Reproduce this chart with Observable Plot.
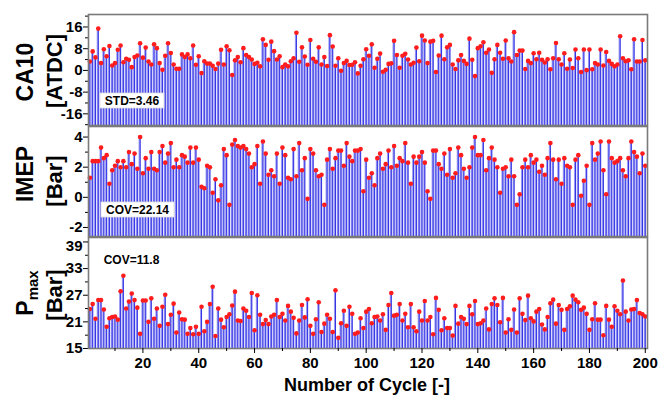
<!DOCTYPE html>
<html><head><meta charset="utf-8">
<script src="https://cdn.jsdelivr.net/npm/d3@7"></script>
<script src="https://cdn.jsdelivr.net/npm/@observablehq/plot@0.6"></script>
<style>
body{margin:0;background:#fff;font-family:"Liberation Sans",Arial,sans-serif;}
#chart{position:relative;width:662px;height:403px;overflow:hidden;}
#chart > div, #chart > svg{position:absolute;left:0;}
</style></head><body><div id="chart"></div>
<script>
const ca10 = [
3.3,7,4.8,15.4,2.7,7.8,5.2,9,1.8,2.7,
7.6,9.2,3,4.3,3.9,1.2,4.9,5.5,10,4.7,
8.4,3.3,2.2,9.6,8.2,2.7,0.2,5.4,10,6.4,
2.2,0.6,0.6,5.9,4.9,5.9,4.5,9.2,2.1,5.2,
-1,3.4,2.5,2.5,1.7,0.5,2.5,7.6,2.2,8.9,
7.4,-1.7,3.7,4.9,3,
8.2,5.7,4.9,4,2.4,2.8,1.5,11.5,9.4,3.9,
10.6,7.1,4,5.2,1.2,2.2,1.5,3.4,4.5,13.9,
3.2,8.5,5.1,2.1,11.2,4.3,3.2,8.5,2.2,4.9,
1.6,13,8.8,1.7,4.5,-0.1,2.7,3.5,2,2.1,
3,-1.1,1.7,4.1,7.8,5.4,9.6,1,4.3,6.2,
-0.5,0.2,2.4,2.6,10.9,5.7,1,5.4,6.1,4,
2.2,2.8,8.4,3.4,12.8,11,2.7,10.6,10.9,-0.6,
5.5,12.8,4.1,8.5,9.4,2.2,0.5,3.7,5.7,3.5,
2.4,
11.7,3.9,-2.1,8.2,8.9,10.4,6.5,7.7,-0.9,4.1,
9.4,6.5,4.3,11,4.5,3.3,14.1,5.7,7.3,7.3,
0.5,3.5,2.7,6.3,4.1,6.5,3.9,2.9,4.1,0.4,
4.5,10.1,4.1,2.2,6.3,0.6,4,0.9,7.7,4.5,
-0.6,7.7,0.1,7.7,0.4,2.7,2.2,7.7,1.8,6.8,
3.5,2.4,1.5,2.2,12.6,4.5,3.4,3.7,0.4,11.5,
3.3,3.3,11.2,3.7
];
const imep = [
1.3,2.4,2.4,2.4,3.3,2.6,2.8,0.9,1.8,2.1,
2.4,2.0,2.4,2.0,3.0,2.2,2.9,1.9,4.0,1.6,
2.6,1.9,3.0,1.9,1.8,3.0,3.4,2.3,2.9,3.6,
2.0,2.5,2.0,2.8,2.7,2.3,3.3,2.3,3.3,2.5,
0.7,0.6,2.1,2.0,0.3,1.2,-0.2,0.8,3.2,2.8,
-0.5,3.5,3.8,3.4,3.3,3.4,3.2,2.9,2.0,2.2,
3.4,0.9,3.7,2.9,1.5,
1.8,1.4,2.9,0.9,3.3,2.8,1.3,1.2,3.2,1.4,
3.6,1.8,2.6,-0.1,3.2,2.9,1.8,1.4,1.5,-0.5,
2.5,3.2,1.9,2.6,3.1,3.1,2.1,3.6,2.7,2.4,
3.1,3.1,3.2,0.4,2.5,1.3,1.6,0.8,2.6,2.9,
1.9,2.2,3.1,2.0,3.4,2.1,2.6,2.4,3.6,2.3,
0.9,2.7,2.3,2.7,3.0,2.3,0.4,-0.1,3.1,3.1,
2.2,1.9,2.9,1.5,3.2,1.3,1.6,3.3,2.8,1.9,
1.3,
2.0,3.3,4.0,2.8,2.8,3.8,1.8,2.6,3.3,2.5,
2.0,0.3,1.9,2.0,1.4,2.5,1.4,-0.5,0.2,2.0,
2.5,2.0,2.8,2.3,2.5,1.7,2.1,1.5,2.6,3.6,
2.5,1.2,2.5,0.9,2.6,2.1,2.0,-0.5,2.5,2.8,
0.1,1.1,2.1,-0.5,3.6,2.5,2.9,3.7,1.8,0.2,
3.7,2.6,2.3,2.4,2.6,1.8,1.4,2.6,3.7,3.0,
2.7,1.6,2.9,2.1
];
const pmax = [
23.9,25.0,21.7,25.9,25.9,23.8,19.9,21.8,22.1,22.2,
21.5,27.9,31.4,24.0,25.6,27.4,25.9,24.2,18.3,25.8,
25.8,21.0,26.3,21.7,24.0,20.1,24.4,27.1,20.5,22.6,
25.1,18.6,23.1,21.6,21.5,18.3,19.6,18.2,19.9,18.3,
24.4,18.9,21.0,25.0,28.9,17.8,24.0,21.5,19.8,22.1,
22.7,24.7,27.8,21.3,21.2,24.0,23.5,22.1,27.5,19.1,
27.0,22.6,20.5,21.4,20.5,
22.2,22.6,25.9,22.1,22.8,21.3,24.6,23.3,21.9,18.4,
21.3,24.8,22.0,26.1,20.1,18.3,21.6,25.4,18.7,20.6,
22.6,21.7,18.7,28.1,17.4,20.7,23.5,20.1,24.4,22.8,
18.3,18.6,21.8,19.6,23.3,23.9,20.7,22.1,22.2,21.3,
22.7,19.2,24.8,27.5,22.4,22.6,25.0,21.3,22.8,19.8,
25.0,19.8,18.9,23.3,21.3,25.7,21.3,22.1,18.2,26.4,
23.7,19.1,21.8,19.6,19.6,17.9,24.6,20.6,22.1,21.7,
20.5,
24.6,22.7,25.7,20.5,20.7,21.3,24.0,19.3,25.0,26.3,
24.8,20.9,26.4,18.6,21.6,19.2,23.8,18.6,26.3,22.8,
21.4,26.9,21.8,21.1,23.3,23.9,20.4,19.3,22.1,25.2,
26.0,20.6,24.8,23.7,19.2,23.9,24.5,26.9,26.0,25.4,
23.7,24.2,22.8,19.2,21.6,25.2,21.5,21.5,18.0,24.6,
21.5,19.9,24.5,23.5,22.7,30.3,23.3,21.3,23.8,23.9,
25.9,23.0,22.7,22.2
];
const xTicks = [20,40,60,80,100,120,140,160,180,200];
const xMinor = [10,30,50,70,90,110,130,150,170,190];
const ca10Ticks = [-16,-8,0,8,16];
const ca10Minor = [-20,-12,-4,4,12,20];
const imepTicks = [-2,0,2,4];
const imepMinor = [-1,1,3];
const pmaxTicks = [15,21,27,33,39];
const pmaxMinor = [18,24,30,36];

const chart = document.getElementById("chart");
const XD = [0.5, 200.8];
const font = {fontSize:"15px", fontWeight:"bold", fontFamily:"'Liberation Sans',Arial,sans-serif", background:"transparent", color:"#000", overflow:"visible"};

function panel(values, domain, ticks, minor, top, mt, frameH, mb, withX) {
  const data = values.map((v, i) => ({c: i + 1, v}));
  // the topmost label is nudged down a little so it sits inside the panel, as in the reference
  const topTick = ticks[ticks.length - 1];
  const nearTop = (domain[1] - topTick) / (domain[1] - domain[0]) < 0.06;
  const marks = [
    Plot.rectY(data, {x1: d => d.c - 0.5, x2: d => d.c + 0.5, y1: domain[0], y2: "v", fill: "#9b9bf4", insetLeft: 0.35, insetRight: 0.35}),
    Plot.ruleX(data, {x: "c", y1: domain[0], y2: "v", stroke: "#3434e6", strokeWidth: 1}),
    Plot.dot(data, {x: "c", y: "v", r: 2.3, fill: "#ff1c1c"}),
    Plot.axisY({ticks: nearTop ? ticks.slice(0, -1) : ticks, tickSize: 5, tickPadding: 1, tickFormat: d => d, label: null}),
    Plot.axisY({ticks: minor, tickSize: 3, tickFormat: () => "", label: null}),
    Plot.frame({stroke: "#7a7a7a", strokeWidth: 1.6})
  ];
  if (nearTop) {
    marks.push(Plot.axisY({ticks: [topTick], tickSize: 5, tickFormat: () => "", label: null}));
    marks.push(Plot.axisY({ticks: [topTick], tickSize: 0, tickPadding: 6, dy: 4, tickFormat: d => d, label: null}));
  }
  if (withX) {
    marks.push(Plot.axisX({ticks: xTicks, tickSize: 5, tickPadding: 4, tickFormat: d => d, label: null, fontSize: 15}));
    marks.push(Plot.axisX({ticks: xMinor, tickSize: 3, tickFormat: () => "", label: null}));
  }
  const p = Plot.plot({
    width: 662, height: mt + frameH + mb,
    marginLeft: 88, marginRight: 15, marginTop: mt, marginBottom: mb,
    style: font,
    x: {domain: XD, axis: null},
    y: {domain, axis: null},
    marks
  });
  const wrap = document.createElement("div");
  wrap.style.top = top + "px";
  wrap.appendChild(p);
  chart.appendChild(wrap);
}

panel(ca10, [-20.3, 20.6], ca10Ticks, ca10Minor, 4, 10, 111, 4, false);
panel(imep, [-2.6, 4.7], imepTicks, imepMinor, 121, 5, 110, 4, false);
panel(pmax, [15, 40], pmaxTicks, pmaxMinor, 232, 5, 111, 50, true);

// overlay text
const svg = d3.select(chart).append("svg").attr("width", 662).attr("height", 403).style("top", "0px").style("pointer-events", "none");
const ff = "'Liberation Sans',Arial,sans-serif";
function ylab(x, y, txt, size, sub) {
  const t = svg.append("text").attr("transform", `translate(${x},${y}) rotate(-90)`)
    .attr("text-anchor", "middle").attr("font-family", ff).attr("font-weight", "bold").attr("font-size", size).attr("fill", "#000");
  t.append("tspan").text(txt);
  if (sub) t.append("tspan").attr("font-size", 15).attr("dy", 5).text(sub);
}
ylab(33, 72, "CA10", 23);
ylab(62, 71, "[ATDC]", 22);
ylab(33, 174, "IMEP", 23);
ylab(62, 181, "[Bar]", 22);
ylab(33, 293, "P", 23, "max");
ylab(62, 295, "[Bar]", 22);

svg.append("text").attr("x", 367).attr("y", 391).attr("text-anchor", "middle")
  .attr("font-family", ff).attr("font-weight", "bold").attr("font-size", 18).text("Number of Cycle [-]");

function note(x, y, w, h, txt, box) {
  if (box) svg.append("rect").attr("x", x).attr("y", y).attr("width", w).attr("height", h).attr("fill", "#fff").attr("stroke", "#ddd").attr("stroke-width", 0.8);
  svg.append("text").attr("x", x + w / 2).attr("y", y + h / 2 + 4.3).attr("text-anchor", "middle")
    .attr("font-family", ff).attr("font-weight", "bold").attr("font-size", 12).text(txt);
}
note(100, 93, 64, 15, "STD=3.46", true);
note(101, 202, 73, 15, "COV=22.14", true);
note(100, 252, 63, 15, "COV=11.8", false);
</script></body></html>
